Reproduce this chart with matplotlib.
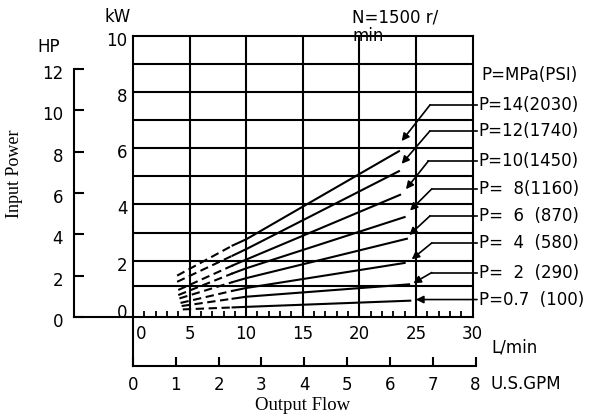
import matplotlib
matplotlib.use("Agg")
import matplotlib.pyplot as plt
from matplotlib.transforms import ScaledTranslation

plt.rcParams['font.family'] = ['DejaVu Sans']
plt.rcParams['font.size'] = 12

W, H = 596, 416

# curves: input power (kW) vs output flow (L/min), one per pressure
flow_left = [3.9, 3.9, 4.0, 4.0, 4.1, 4.2, 4.3, 4.4]
power_left = [1.47, 1.25, 0.96, 0.78, 0.66, 0.50, 0.39, 0.27]
flow_break = 8.8
power_break = [2.54, 2.18, 1.83, 1.55, 1.24, 0.93, 0.65, 0.34]
flow_mid = 10
power_mid = [2.76, 2.41, 2.04, 1.73, 1.38, 1.03, 0.72, 0.36]
flow_right = [23.5, 23.5, 23.6, 24.0, 24.2, 24.0, 24.4, 24.5]
power_right = [5.89, 5.18, 4.34, 3.55, 2.78, 1.92, 1.16, 0.58]

# pressure labels and where their arrows point
p_labels = ['P=14(2030)', 'P=12(1740)', 'P=10(1450)', 'P=  8(1160)',
            'P=  6  (870)', 'P=  4  (580)', 'P=  2  (290)', 'P=0.7  (100)']
label_y = [7.53, 6.61, 5.54, 4.55, 3.59, 2.63, 1.58, 0.62]
tip_x = [23.74, 23.74, 24.12, 24.48, 24.41, 24.63, 24.77, 25.0]
tip_y = [6.25, 5.44, 4.54, 3.78, 2.91, 2.05, 1.20, 0.62]
corner_x = [26.24, 26.24, 26.1, 26.4, 26.24, 26.4, 26.4, 30.4]

flow_ticks = [0, 5, 10, 15, 20, 25, 30]
kw_ticks = [0, 2, 4, 6, 8, 10]
hp_ticks = [0, 2, 4, 6, 8, 10, 12]
gpm_ticks = [0, 1, 2, 3, 4, 5, 6, 7, 8]
grid_flow = [5, 10, 15, 20, 25]
grid_kw = [1.1, 2, 3, 4, 5, 6, 7, 8, 9]

LW = 1.5


def px_box(x0, y0, x1, y1):
    return [x0 / W, 1 - y1 / H, (x1 - x0) / W, (y1 - y0) / H]


fig = plt.figure(figsize=(W / 100, H / 100), dpi=100)

# main chart (L/min, kW)
ax = fig.add_axes(px_box(133, 35.5, 472.5, 317))
ax.set_xlim(0, 30)
ax.set_ylim(0, 10)
for s in ax.spines.values():
    s.set_linewidth(LW)
for x in grid_flow:
    ax.axvline(x, color='k', lw=LW, zorder=1)
for y in grid_kw:
    ax.axhline(y, color='k', lw=LW, zorder=1)

ax.set_xticks(flow_ticks)
ax.set_xticklabels([str(v) for v in flow_ticks])
ax.set_xticks(range(0, 31), minor=True)
ax.tick_params(axis='x', which='major', length=0, pad=6)
ax.tick_params(axis='x', which='minor', direction='in', length=4.3, width=1.3)
ax.set_yticks(kw_ticks)
ax.set_yticklabels([str(v) for v in kw_ticks])
ax.tick_params(axis='y', length=0, pad=4)
for t in ax.get_yticklabels():
    t.set_transform(t.get_transform() + ScaledTranslation(0, -3 / 100, fig.dpi_scale_trans))
ax.xaxis.get_major_ticks()[0].label1.set_transform(
    ax.xaxis.get_major_ticks()[0].label1.get_transform()
    + ScaledTranslation(8 / 100, 0, fig.dpi_scale_trans))
ax.yaxis.get_major_ticks()[0].label1.set_transform(
    ax.yaxis.get_major_ticks()[0].label1.get_transform()
    + ScaledTranslation(0, 9 / 100, fig.dpi_scale_trans))

for i in range(len(p_labels)):
    ax.plot([flow_left[i], flow_break], [power_left[i], power_break[i]],
            color='k', lw=LW, dashes=(4, 2.2), zorder=3)
    ax.plot([flow_break, flow_mid, flow_right[i]],
            [power_break[i], power_mid[i], power_right[i]],
            color='k', lw=LW, zorder=3)
    ax.plot([corner_x[i], 30.4], [label_y[i], label_y[i]],
            color='k', lw=1.2, clip_on=False, zorder=4)
    ax.annotate('', xy=(tip_x[i], tip_y[i]), xytext=(corner_x[i], label_y[i]),
                arrowprops=dict(arrowstyle='-|>', lw=1.2, color='k',
                                mutation_scale=11, shrinkA=0, shrinkB=0),
                annotation_clip=False, zorder=4)
    ax.text(30.55, label_y[i], p_labels[i], ha='left', va='center',
            fontsize=12, clip_on=False)

# HP scale on the left
ax_hp = fig.add_axes(px_box(74, 69, 133, 317))
ax_hp.set_ylim(0, 12)
ax_hp.set_xlim(0, 1)
ax_hp.set_xticks([])
ax_hp.spines['top'].set_visible(False)
ax_hp.spines['right'].set_visible(False)
for s in ('left', 'bottom'):
    ax_hp.spines[s].set_linewidth(LW)
ax_hp.set_yticks(hp_ticks)
ax_hp.set_yticklabels([str(v) for v in hp_ticks])
ax_hp.tick_params(axis='y', direction='in', length=7.5, width=LW, pad=8)
for t in ax_hp.get_yticklabels():
    t.set_transform(t.get_transform() + ScaledTranslation(0, -3 / 100, fig.dpi_scale_trans))
ax_hp.patch.set_visible(False)

# U.S.GPM scale below
ax_g = fig.add_axes(px_box(133, 317, 475.5, 366))
ax_g.set_xlim(0, 8)
ax_g.set_ylim(0, 1)
ax_g.set_yticks([])
ax_g.spines['top'].set_visible(False)
ax_g.spines['right'].set_visible(False)
for s in ('left', 'bottom'):
    ax_g.spines[s].set_linewidth(LW)
ax_g.set_xticks(gpm_ticks)
ax_g.set_xticklabels([str(v) for v in gpm_ticks])
ax_g.tick_params(axis='x', direction='in', length=6.5, width=LW, pad=7)
ax_g.patch.set_visible(False)

# free texts
fig.text(104 / W, 1 - 16.5 / H, 'kW', ha='left', va='center', fontsize=12)
fig.text(37 / W, 1 - 47.5 / H, 'HP', ha='left', va='center', fontsize=12)
fig.text(352 / W, 1 - 9 / H, 'N=1500 r/\nmin', ha='left', va='top',
         fontsize=12, linespacing=1.0)
fig.text(481 / W, 1 - 75.5 / H, 'P=MPa(PSI)', ha='left', va='center', fontsize=12)
fig.text(491 / W, 1 - 348 / H, 'L/min', ha='left', va='center', fontsize=12)
fig.text(490 / W, 1 - 384 / H, 'U.S.GPM', ha='left', va='center', fontsize=12)
fig.text(303 / W, 1 - 406 / H, 'Output Flow', ha='center', va='center',
         fontsize=13.5, family='Liberation Serif')
fig.text(15 / W, 1 - 174 / H, 'Input Power', ha='center', va='center',
         rotation=90, fontsize=13, family='Liberation Serif')

fig.savefig('out.png', dpi=100)
